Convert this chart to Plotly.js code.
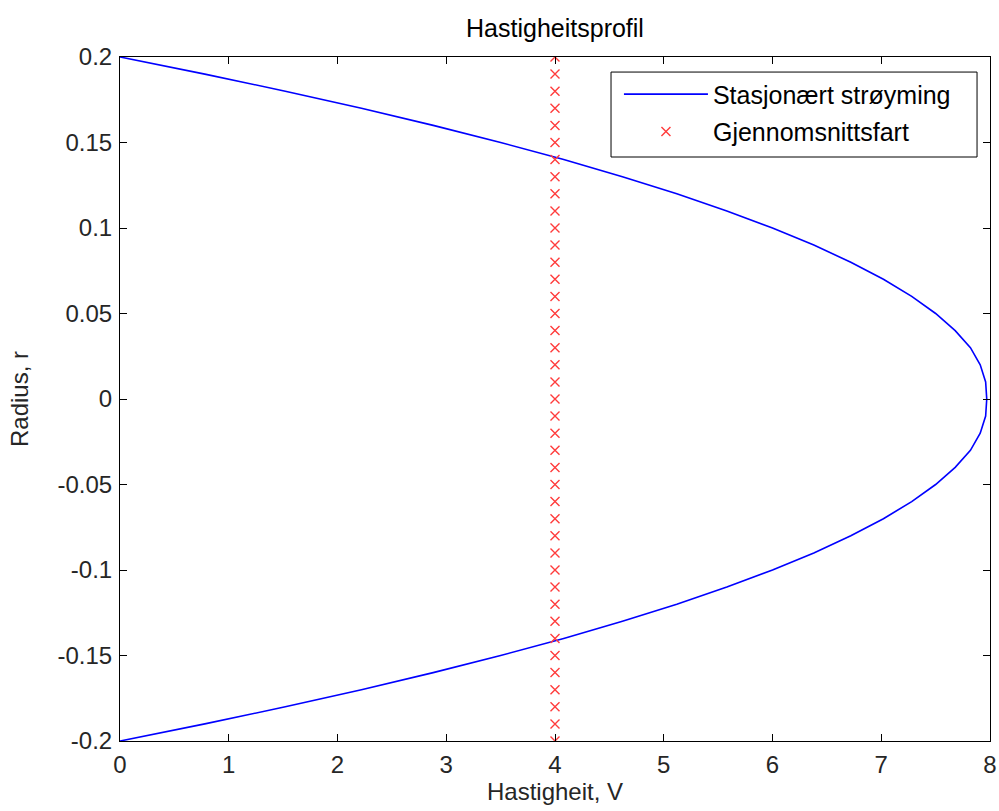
<!DOCTYPE html>
<html>
<head>
<meta charset="utf-8">
<script src="https://cdn.plot.ly/plotly-3.0.1.min.js"></script>
<style>html,body{margin:0;padding:0;background:#fff;}#chart{width:999px;height:811px;}</style>
</head>
<body>
<div id="chart"></div>
<script>
// Stationary flow velocity profile
const radius = [-0.20,-0.19,-0.18,-0.17,-0.16,-0.15,-0.14,-0.13,-0.12,-0.11,-0.10,-0.09,-0.08,-0.07,-0.06,-0.05,-0.04,-0.03,-0.02,-0.01,0.00,0.01,0.02,0.03,0.04,0.05,0.06,0.07,0.08,0.09,0.10,0.11,0.12,0.13,0.14,0.15,0.16,0.17,0.18,0.19,0.20];
const velocity = [0.00,0.78,1.52,2.22,2.88,3.50,4.08,4.62,5.12,5.58,6.00,6.38,6.72,7.02,7.28,7.50,7.68,7.82,7.91,7.96,7.97,7.96,7.91,7.82,7.68,7.50,7.28,7.02,6.72,6.38,6.00,5.58,5.12,4.62,4.08,3.50,2.88,2.22,1.52,0.78,0.00];
// Mean velocity markers
const meanRadius = [-0.20,-0.19,-0.18,-0.17,-0.16,-0.15,-0.14,-0.13,-0.12,-0.11,-0.10,-0.09,-0.08,-0.07,-0.06,-0.05,-0.04,-0.03,-0.02,-0.01,0.00,0.01,0.02,0.03,0.04,0.05,0.06,0.07,0.08,0.09,0.10,0.11,0.12,0.13,0.14,0.15,0.16,0.17,0.18,0.19,0.20];
const meanVelocity = [4,4,4,4,4,4,4,4,4,4,4,4,4,4,4,4,4,4,4,4,4,4,4,4,4,4,4,4,4,4,4,4,4,4,4,4,4,4,4,4,4];
// Ticks
const xTickVals = [0,1,2,3,4,5,6,7,8];
const xTickText = ["0","1","2","3","4","5","6","7","8"];
const yTickVals = [-0.2,-0.15,-0.1,-0.05,0,0.05,0.1,0.15,0.2];
const yTickText = ["-0.2","-0.15","-0.1","-0.05","0","0.05","0.1","0.15","0.2"];

const fam = "Liberation Sans, Arial, sans-serif";
const font = {family: fam, size: 24, color: "#262626"};

const traces = [
  {x: velocity, y: radius, type: "scatter", mode: "lines", name: "Stasjonært strøyming",
   legendgroup: "a", line: {color: "#0000ff", width: 1.6}},
  {x: meanVelocity, y: meanRadius, type: "scatter", mode: "markers", name: "Gjennomsnittsfart",
   legendgroup: "b", marker: {symbol: "x-thin-open", size: 9, color: "#ff3b3b", line: {color: "#ff3b3b", width: 1.4}}}
];

const axisCommon = {
  showgrid: false, zeroline: false, showline: true, mirror: "ticks",
  linecolor: "#000", linewidth: 1, ticks: "inside", ticklen: 7, tickcolor: "#000",
  tickfont: font
};

const layout = {
  width: 999, height: 811,
  paper_bgcolor: "#fff", plot_bgcolor: "#fff",
  margin: {l: 120, r: 9, t: 57, b: 70},
  title: {text: "Hastigheitsprofil", font: {family: fam, size: 25, color: "#000"}, x: 0.5, xref: "paper",
    y: 1, yref: "paper", yanchor: "bottom", pad: {b: 20}},
  showlegend: true,
  legend: {x: 0.5735, xanchor: "left", y: 0.979, yanchor: "top", borderwidth: 0,
    bgcolor: "rgba(0,0,0,0)", font: {family: fam, size: 25, color: "#000"}, itemwidth: 84,
    traceorder: "grouped", tracegroupgap: 2},
  shapes: [
    {type: "rect", xref: "paper", yref: "paper", x0: 0.5644, x1: 0.9851, y0: 0.8538, y1: 0.978,
     line: {color: "#000", width: 1}, fillcolor: "rgba(0,0,0,0)", layer: "above"}
  ],
  xaxis: Object.assign({}, axisCommon, {range: [0, 8], tickvals: xTickVals, ticktext: xTickText,
    ticklabelstandoff: 2, title: {text: "Hastigheit, V", font: font, standoff: 2}}),
  yaxis: Object.assign({}, axisCommon, {range: [-0.2, 0.2], tickvals: yTickVals, ticktext: yTickText,
    ticklabelstandoff: 2, title: {text: "Radius, r", font: font, standoff: 22}})
};

Plotly.newPlot("chart", traces, layout, {displayModeBar: false, staticPlot: true});
</script>
</body>
</html>
